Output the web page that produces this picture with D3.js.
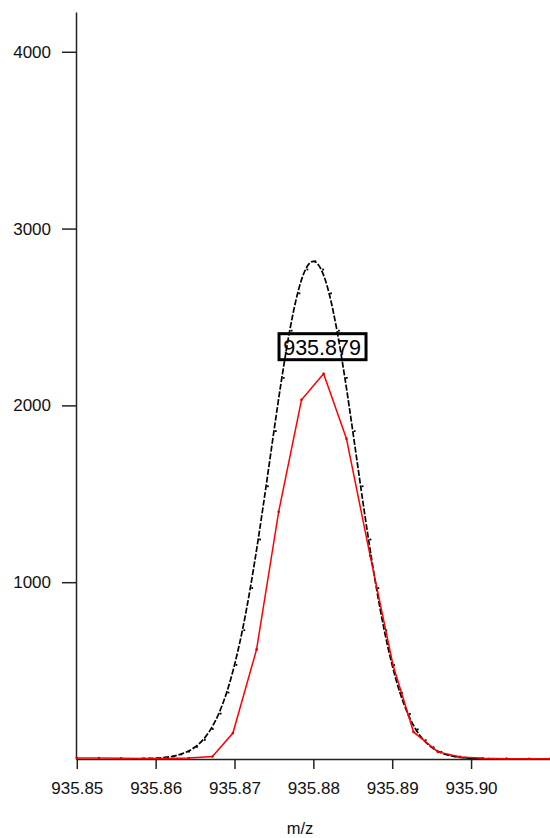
<!DOCTYPE html>
<html>
<head>
<meta charset="utf-8">
<script src="https://cdn.jsdelivr.net/npm/d3@7"></script>
<style>
  html, body { margin: 0; padding: 0; background: #fff; }
  svg { display: block; }
  text { font-family: "Liberation Sans", Arial, sans-serif; }
</style>
</head>
<body>
<svg id="chart" width="550" height="838"></svg>
<script>
// Theoretical profile (black dashed)
const profileMz = [935.857, 935.858, 935.859, 935.860, 935.861, 935.862, 935.863, 935.864, 935.865,
  935.866, 935.867, 935.868, 935.869, 935.870, 935.871, 935.872, 935.873, 935.874, 935.875,
  935.876, 935.877, 935.878, 935.879, 935.880, 935.881, 935.882, 935.883, 935.884, 935.885,
  935.886, 935.887, 935.888, 935.889, 935.890, 935.891, 935.892, 935.893, 935.894, 935.895,
  935.896, 935.897, 935.898, 935.899, 935.900, 935.901, 935.902, 935.903];
const profileIntensity = [0, 1, 2, 4, 8, 14, 25, 41, 68,
  108, 169, 256, 375, 532, 728, 966, 1241, 1542, 1854,
  2155, 2422, 2633, 2768, 2815, 2768, 2633, 2422, 2155, 1854,
  1542, 1241, 966, 727, 530, 373, 254, 167, 106, 66,
  39, 23, 13, 7, 4, 2, 1, 0];

// Measured spectrum (red)
const measuredMz = [935.8500, 935.8528, 935.8556, 935.8585, 935.8613, 935.8642, 935.8672, 935.8698,
  935.8728, 935.8756, 935.8785, 935.8813, 935.8842, 935.8872, 935.8901, 935.8927, 935.8958,
  935.8986, 935.9015, 935.9045, 935.9074, 935.9100];
const measuredIntensity = [6, 6, 4, 3, 3, 6, 14, 147,
  620, 1398, 2032, 2179, 1811, 1150, 532, 153, 40,
  12, 4, 2, 1, 1];

const xTicks = [935.85, 935.86, 935.87, 935.88, 935.89, 935.90];
const yTicks = [1000, 2000, 3000, 4000];
const peakLabel = "935.879";
const peakLabelMz = 935.8811;
const peakLabelIntensity = 2332;
const xTitle = "m/z";

const svg = d3.select("#chart");
const mLeft = 76, mRight = 550, mTop = 12, mBottom = 759;

const x = d3.scaleLinear().domain([935.8499, 935.91001]).range([mLeft, mRight]);
const y = d3.scaleLinear().domain([0, 4225]).range([mBottom, mTop]);

// Axes
const xAxis = d3.axisBottom(x).tickValues(xTicks).tickFormat(d3.format(".2f"))
  .tickSizeInner(10).tickSizeOuter(0).tickPadding(13);
const gx = svg.append("g").attr("transform", `translate(0,${mBottom})`).call(xAxis);
gx.select(".domain").attr("stroke", "#222").attr("stroke-width", 1.5);
gx.selectAll(".tick line").attr("stroke", "#222").attr("stroke-width", 1.5);
gx.selectAll(".tick text").attr("font-size", 17).attr("fill", "#111")
  .attr("font-family", "'Liberation Sans', Arial, sans-serif");

const yAxis = d3.axisLeft(y).tickValues(yTicks).tickFormat(d3.format("d"))
  .tickSizeInner(14).tickSizeOuter(0).tickPadding(11);
const gy = svg.append("g").attr("transform", `translate(${mLeft},0)`).call(yAxis);
gy.select(".domain").attr("stroke", "#222").attr("stroke-width", 1.5);
gy.selectAll(".tick line").attr("stroke", "#222").attr("stroke-width", 1.5);
gy.selectAll(".tick text").attr("font-size", 17).attr("fill", "#111")
  .attr("font-family", "'Liberation Sans', Arial, sans-serif");

svg.append("text").attr("x", 300).attr("y", 834).attr("text-anchor", "middle")
  .attr("font-size", 16.5).attr("fill", "#111").text(xTitle);

// Black dashed profile
const profile = profileMz.map((m, i) => [m, profileIntensity[i]]);
const line = d3.line().x(d => x(d[0])).y(d => y(d[1])).curve(d3.curveMonotoneX);
svg.append("path").datum(profile).attr("d", line)
  .attr("fill", "none").attr("stroke", "#000").attr("stroke-width", 1.7)
  .attr("stroke-dasharray", "6,1.8");
svg.append("g").selectAll("rect").data(profile).join("rect")
  .attr("x", d => x(d[0]) + 1).attr("y", d => y(d[1]) - 1)
  .attr("width", 1.8).attr("height", 1.8).attr("fill", "#000");

// Red measured
const measured = measuredMz.map((m, i) => [m, measuredIntensity[i]]);
const lineR = d3.line().x(d => x(d[0])).y(d => y(d[1]));
svg.append("path").datum(measured).attr("d", lineR)
  .attr("fill", "none").attr("stroke", "#ff0000").attr("stroke-width", 1.5);
svg.append("g").selectAll("circle").data(measured).join("circle")
  .attr("cx", d => x(d[0])).attr("cy", d => y(d[1])).attr("r", 1.3).attr("fill", "#e00000");

// Peak label box
const lg = svg.append("g").attr("transform", `translate(${x(peakLabelMz)},${y(peakLabelIntensity)})`);
lg.append("rect").attr("x", -43).attr("y", -13).attr("width", 87).attr("height", 26)
  .attr("fill", "none").attr("stroke", "#000").attr("stroke-width", 3);
lg.append("text").attr("x", 0).attr("y", 8).attr("text-anchor", "middle")
  .attr("font-size", 21.5).attr("fill", "#000").text(peakLabel);
</script>
</body>
</html>
